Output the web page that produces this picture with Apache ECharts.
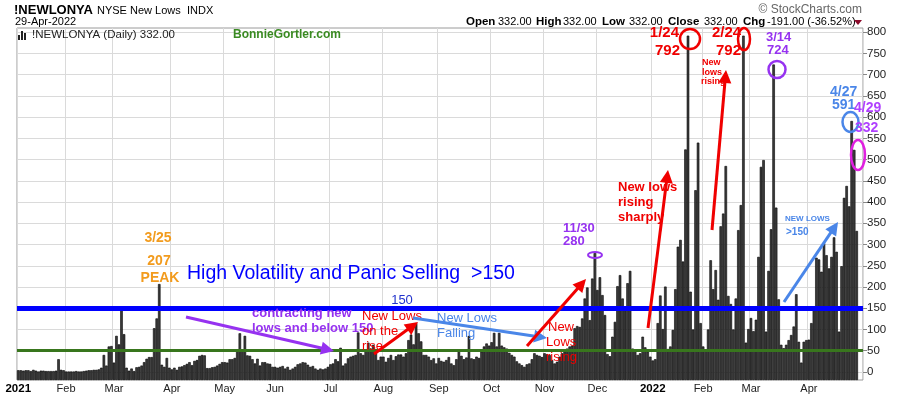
<!DOCTYPE html>
<html><head><meta charset="utf-8">
<script src="https://cdn.jsdelivr.net/npm/echarts@6/dist/echarts.min.js"></script>
<style>html,body{margin:0;padding:0;background:#fff}#c{width:900px;height:396px}</style>
</head><body><div id="c"></div>
<script>
// ---- data (NYSE new 52-week lows, daily) ----
const monthLabels = ['2021','Feb','Mar','Apr','May','Jun','Jul','Aug','Sep','Oct','Nov','Dec','2022','Feb','Mar','Apr'];
const jan21 = [4,4,3,4,4,2,5,3,1,3,3,2,2,2,2,3,30,5,4];
const feb21 = [1,1,1,1,2,1,1,2,3,4,4,5,5,6,10,40,15,60,61];
const mar21 = [22,85,65,146,89,10,3,8,2,11,12,15,23,31,35,35,103,126,207,17,12,33,10];
const apr21 = [6,10,5,12,13,16,19,23,16,26,28,38,40,39,9,9,11,12,15,19,23];
const may21 = [23,22,30,30,33,50,91,52,85,39,38,30,20,31,15,23,23,20,19,12];
const jun21 = [12,10,12,14,8,12,5,8,12,18,20,23,22,17,12,14,8,5,8,6,8,12];
const jul21 = [18,20,30,25,57,15,20,32,36,38,40,93,44,40,52,69,55,64,45,28,36];
const aug21 = [36,24,33,40,28,37,41,41,36,44,75,88,65,115,91,72,40,40,36,28,32,20];
const sep21 = [33,26,24,28,35,20,16,30,52,38,30,34,85,32,30,36,33,48,60,67,62];
const oct21 = [70,92,60,92,62,58,55,45,40,36,25,20,16,12,18,20,30,44,40,38,35];
const nov21 = [44,42,40,28,20,24,36,44,48,55,60,62,103,108,106,126,173,199,122,220,280];
const dec21 = [193,223,181,134,42,37,83,118,202,228,173,150,209,238,55,52,40,44,83,58,48,36];
const jan22 = [27,30,115,180,101,201,54,60,99,195,295,311,260,524,792,189,100,428,540,115];
const feb22 = [60,52,100,263,195,240,170,343,373,485,179,160,100,173,334,393,792,69,101];
const mar22 = [127,96,123,271,483,499,95,238,336,724,387,171,64,56,64,75,87,107,183,71,22,71,75];
const apr22 = [76,115,150,269,265,236,303,275,244,271,317,283,95,249,410,438,390,591,523,332];
const monthValues = [jan21,feb21,mar21,apr21,may21,jun21,jul21,aug21,sep21,oct21,nov21,dec21,jan22,feb22,mar22,apr22];
const yTicks = [0,50,100,150,200,250,300,350,400,450,500,550,600,650,700,750,800];
const panicLevel = 150;
const lowLevel = 50;

// ---- build categories ----
const categories = [], values = [];
monthValues.forEach((arr, m) => arr.forEach((v, k) => { categories.push(monthLabels[m] + '|' + m + '|' + k); values.push(v); }));
const axisCats = categories.concat(['pad|a', 'pad|b']);
const isMonthStart = (i, val) => typeof val === 'string' && /\|\d+\|0$/.test(val);

const SANS = '"Liberation Sans", Arial, sans-serif';
const NARROW = '"Liberation Sans Narrow", "Liberation Sans", Arial, sans-serif';
const RED = '#f00000', PURPLE = '#9632f0', LBLUE = '#4a86e8', ORANGE = '#f29b1d';

function txt(x, y, s, size, color, weight, align, family) {
  return { type: 'text', x: x, y: y, z: 100, silent: true,
    style: { text: s, fontSize: size, fontWeight: weight || 'normal', fontFamily: family || SANS,
      fill: color, align: align || 'left', verticalAlign: 'middle' } };
}
function arrow(x1, y1, x2, y2, color, w) {
  const dx = x2 - x1, dy = y2 - y1, len = Math.hypot(dx, dy), ux = dx / len, uy = dy / len;
  const hl = 13, hw = 6.5;
  const bx = x2 - ux * hl, by = y2 - uy * hl;
  return [
    { type: 'line', z: 100, silent: true, shape: { x1: x1, y1: y1, x2: bx + ux, y2: by + uy }, style: { stroke: color, lineWidth: w } },
    { type: 'polygon', z: 100, silent: true, shape: { points: [[x2, y2], [bx - uy * hw, by + ux * hw], [bx + uy * hw, by - ux * hw]] }, style: { fill: color } }
  ];
}
function ring(cx, cy, rx, ry, color, w) {
  return { type: 'ellipse', z: 100, silent: true, shape: { cx: cx, cy: cy, rx: rx, ry: ry }, style: { fill: 'none', stroke: color, lineWidth: w } };
}

const graphics = [
  // header
  txt(14, 10, '!NEWLONYA', 13, '#000', 'bold'),
  txt(97, 11, 'NYSE New Lows', 11, '#000'),
  txt(187, 11, 'INDX', 11, '#000'),
  txt(15, 22, '29-Apr-2022', 11, '#000'),
  txt(862, 10, '\u00A9 StockCharts.com', 12, '#666', 'normal', 'right'),
  txt(466, 22, 'Open', 11.5, '#000', 'bold'), txt(498, 22, '332.00', 11, '#000'),
  txt(536, 22, 'High', 11.5, '#000', 'bold'), txt(563, 22, '332.00', 11, '#000'),
  txt(602, 22, 'Low', 11.5, '#000', 'bold'), txt(629, 22, '332.00', 11, '#000'),
  txt(668, 22, 'Close', 11.5, '#000', 'bold'), txt(704, 22, '332.00', 11, '#000'),
  txt(743, 22, 'Chg', 11.5, '#000', 'bold'), txt(767, 22, '-191.00 (-36.52%)', 11, '#000'),
  { type: 'polygon', z: 100, silent: true, shape: { points: [[854, 20], [862, 20], [858, 25]] }, style: { fill: '#8b0a2a' } },
  // legend inside plot
  { type: 'rect', z: 100, silent: true, shape: { x: 18, y: 35, width: 2, height: 5 }, style: { fill: '#222' } },
  { type: 'rect', z: 100, silent: true, shape: { x: 21, y: 31, width: 2, height: 9 }, style: { fill: '#222' } },
  { type: 'rect', z: 100, silent: true, shape: { x: 24, y: 33, width: 2, height: 7 }, style: { fill: '#222' } },
  txt(32, 35, '!NEWLONYA (Daily) 332.00', 11.5, '#222'),
  txt(233, 35, 'BonnieGortler.com', 12, '#3a8a22', 'bold'),
  // 2021 annotations
  txt(158, 238, '3/25', 14, ORANGE, 'bold', 'center'),
  txt(159, 261, '207', 14, ORANGE, 'bold', 'center'),
  txt(160, 278, 'PEAK', 14, ORANGE, 'bold', 'center'),
  txt(187, 274, 'High Volatility and Panic Selling  >150', 19.5, '#0000ff'),
  txt(402, 300, '150', 13, '#2233cc', 'normal', 'center'),
  txt(252, 313, 'contracting new', 13, PURPLE, 'bold'),
  txt(252, 328, 'lows and below 150', 13, PURPLE, 'bold'),
  ...arrow(186, 317, 334, 351, PURPLE, 3),
  txt(362, 316, 'New Lows', 13, RED),
  txt(362, 331, 'on the', 13, RED),
  txt(362, 346, 'rise', 13, RED),
  ...arrow(374, 354, 418, 322, RED, 3),
  txt(437, 318, 'New Lows', 13, LBLUE),
  txt(437, 333, 'Falling', 13, LBLUE),
  ...arrow(413, 318, 547, 338, LBLUE, 3),
  txt(548, 327, 'New', 13, RED),
  txt(546, 342, 'Lows', 13, RED),
  txt(546, 357, 'rising', 13, RED),
  ...arrow(527, 346, 586, 279, RED, 3),
  txt(563, 228, '11/30', 13, PURPLE, 'bold'),
  txt(563, 241, '280', 13, PURPLE, 'bold'),
  ring(595, 255, 7, 3, PURPLE, 2),
  // 2022 annotations
  ...arrow(648, 328, 668, 170, RED, 3),
  txt(618, 187, 'New lows', 13, RED, 'bold'),
  txt(618, 202, 'rising', 13, RED, 'bold'),
  txt(618, 217, 'sharply', 13, RED, 'bold'),
  txt(679, 33, '1/24', 15, RED, 'bold', 'right'),
  txt(680, 51, '792', 15, RED, 'bold', 'right'),
  ring(690, 39, 10, 10, RED, 2.5),
  txt(712, 33, '2/24', 15, RED, 'bold'),
  txt(741, 51, '792', 15, RED, 'bold', 'right'),
  ring(744, 39, 6, 11, RED, 2.5),
  txt(702, 63, 'New', 9, RED, 'bold'),
  txt(702, 73, 'lows', 9, RED, 'bold'),
  txt(701, 82, 'rising', 9, RED, 'bold'),
  ...arrow(712, 230, 726, 70, RED, 3),
  txt(766, 37, '3/14', 13, PURPLE, 'bold'),
  txt(767, 50, '724', 13, PURPLE, 'bold'),
  ring(777, 69.5, 8.5, 8.5, PURPLE, 2.5),
  txt(785, 219, 'NEW LOWS', 8, LBLUE, 'bold'),
  txt(786, 232, '>150', 10, LBLUE, 'bold'),
  ...arrow(784, 302, 838, 222, LBLUE, 3),
  txt(830, 92, '4/27', 14, LBLUE, 'bold'),
  txt(832, 105, '591', 14, LBLUE, 'bold'),
  ring(850.5, 122, 8, 10, LBLUE, 2.5),
  txt(854, 108, '4/29', 14, '#b040ff', 'bold'),
  txt(855, 128, '332', 14, '#b040ff', 'bold'),
  ring(858, 155, 7, 15, '#e020e0', 2.5)
];

const chart = echarts.init(document.getElementById('c'), null, { renderer: 'canvas' });
chart.setOption({
  animation: false,
  backgroundColor: '#fff',
  grid: { left: 17, top: 28, right: 37, bottom: 16, show: true, borderColor: '#9a9a9a', borderWidth: 1, backgroundColor: '#fff' },
  xAxis: {
    type: 'category', data: axisCats, boundaryGap: true,
    axisLine: { show: false }, axisTick: { show: false },
    axisLabel: {
      interval: isMonthStart, margin: 3, fontSize: 11, color: '#222', fontFamily: SANS,
      formatter: v => { const lab = String(v).split('|')[0]; return /^\d{4}$/.test(lab) ? '{y|' + lab + '}' : lab; },
      rich: { y: { fontWeight: 'bold', fontSize: 11.5, color: '#000', fontFamily: SANS } }
    },
    splitLine: { show: true, interval: isMonthStart, lineStyle: { color: '#dadada', width: 1 } }
  },
  yAxis: {
    type: 'value', position: 'right', min: -19, max: 810, startValue: -19,
    axisLine: { show: false },
    axisTick: { show: true, customValues: yTicks, length: 4, lineStyle: { color: '#888' } },
    axisLabel: { customValues: yTicks, margin: 4, fontSize: 11.5, color: '#222', fontFamily: NARROW },
    splitLine: { show: true, lineStyle: { color: '#dadada', width: 1 } }
  },
  series: [{
    type: 'bar', data: values, barCategoryGap: '0%', barGap: '0%',
    itemStyle: { color: '#3c3c3c', borderColor: '#000', borderWidth: 0.6 },
    emphasis: { disabled: true }, silent: true,
    markLine: {
      silent: true, symbol: ['none', 'none'], label: { show: false },
      data: [
        { yAxis: panicLevel, lineStyle: { color: '#0000ff', width: 5, type: 'solid' } },
        { yAxis: lowLevel, lineStyle: { color: '#38761d', width: 3, type: 'solid' } }
      ]
    }
  }],
  graphic: { elements: graphics }
});
</script>
</body></html>
